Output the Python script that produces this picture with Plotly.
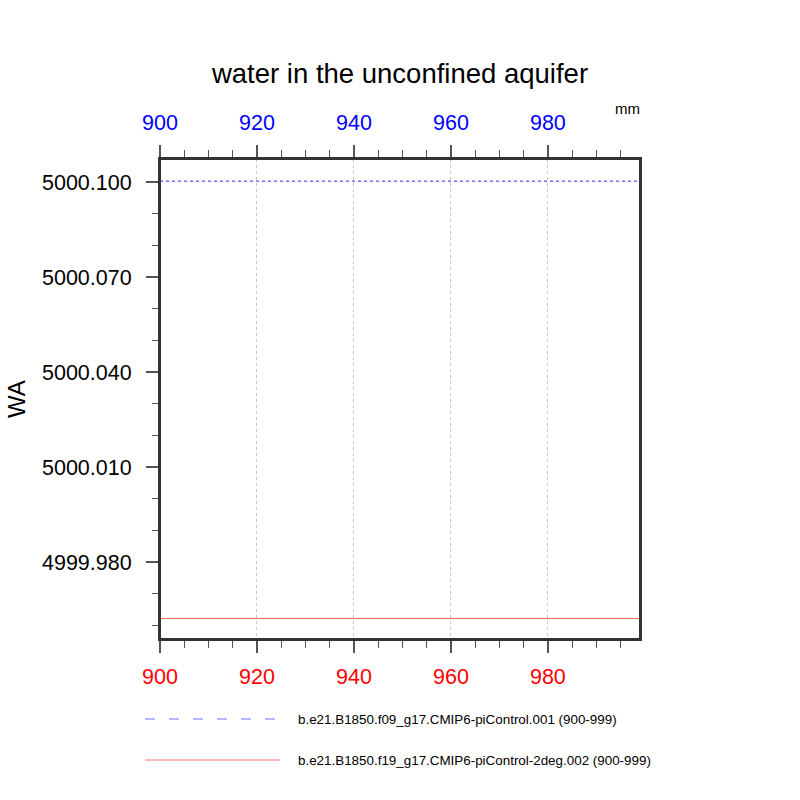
import plotly.graph_objects as go

# Data
years = list(range(900, 1000))
blue_label = "b.e21.B1850.f09_g17.CMIP6-piControl.001 (900-999)"
red_label = "b.e21.B1850.f19_g17.CMIP6-piControl-2deg.002 (900-999)"
blue_level = 5000.1003
red_level = 4999.9622
blue_vals = [blue_level for _ in years]
red_vals = [red_level for _ in years]

x_ticks = [900, 920, 940, 960, 980]
y_ticks = [4999.98, 5000.01, 5000.04, 5000.07, 5000.10]
y_ticktext = ["4999.980", "5000.010", "5000.040", "5000.070", "5000.100"]

FONT = "Liberation Sans, Arial, sans-serif"
AX = "#333333"

fig = go.Figure()
fig.add_trace(go.Scatter(x=years, y=red_vals, mode="lines",
                         line=dict(color="rgb(255,95,95)", width=1),
                         xaxis="x", yaxis="y", showlegend=False))
fig.add_trace(go.Scatter(x=years, y=blue_vals, mode="lines",
                         line=dict(color="rgb(40,40,255)", width=1, dash="3px,3px"),
                         xaxis="x2", yaxis="y", showlegend=False))

xr = [900, 999]
yr = [4999.9557, 5000.1073]

common_x = dict(range=xr, tickvals=x_ticks, ticks="outside", ticklen=12, tickwidth=1.5,
                tickcolor="#555", showline=True, linecolor=AX, linewidth=2,
                zeroline=False, automargin=False,
                minor=dict(dtick=5, tick0=900, ticks="outside", ticklen=7, tickwidth=1,
                           tickcolor="#555", showgrid=False))

fig.update_layout(
    width=800, height=800,
    plot_bgcolor="white", paper_bgcolor="white",
    margin=dict(l=160, r=160, t=159, b=161, autoexpand=False),
    font=dict(family=FONT, color="black"),
    title=dict(text="water in the unconfined aquifer", x=0.5, xanchor="center",
               y=1 - 73 / 800, yanchor="middle", font=dict(size=27.5, family=FONT),
               automargin=False),
    xaxis=dict(**common_x, side="bottom", anchor="y", mirror=False,
               showgrid=True, gridcolor="#c8c8c8", griddash="dot", gridwidth=1,
               ticklabelstandoff=5,
               tickfont=dict(color="red", size=21.5, family=FONT)),
    xaxis2=dict(**common_x, side="top", overlaying="x", anchor="y",
                showgrid=False, ticklabelstandoff=6,
                tickfont=dict(color="blue", size=21.5, family=FONT)),
    yaxis=dict(range=yr, tickvals=y_ticks, ticktext=y_ticktext, ticks="outside",
               ticklen=12, tickwidth=1.5, tickcolor="#555",
               showline=True, linecolor=AX, linewidth=2, mirror=True,
               showgrid=False, zeroline=False, automargin=False,
               ticklabelstandoff=10,
               minor=dict(dtick=0.01, tick0=4999.98, ticks="outside", ticklen=6,
                          tickwidth=1, tickcolor="#555", showgrid=False),
               tickfont=dict(size=21.5, family=FONT),
               title=dict(text="WA", font=dict(size=24, family=FONT), standoff=10)),
    showlegend=False,
)

# frame
fig.add_shape(type="rect", xref="paper", yref="paper", x0=0, x1=1, y0=0, y1=1,
              line=dict(color=AX, width=2), fillcolor="rgba(0,0,0,0)", layer="above")

# units label
fig.add_annotation(text="mm", xref="paper", yref="paper", x=(627 - 160) / 480,
                   y=(639 - 108) / 480, showarrow=False, xanchor="center", yanchor="middle",
                   font=dict(size=15, family=FONT, color="black"))

# custom legend
def px_x(p):
    return (p - 160) / 480

def px_y(p):
    return (639 - p) / 480

fig.add_shape(type="line", xref="paper", yref="paper", x0=px_x(145), x1=px_x(276),
              y0=px_y(719), y1=px_y(719),
              line=dict(color="rgb(110,110,255)", width=1, dash="10px,14px"))
fig.add_shape(type="line", xref="paper", yref="paper", x0=px_x(145), x1=px_x(280),
              y0=px_y(760), y1=px_y(760),
              line=dict(color="rgb(240,120,120)", width=1))
fig.add_annotation(text=blue_label, xref="paper", yref="paper", x=px_x(296), y=px_y(719),
                   xanchor="left", yanchor="middle", showarrow=False,
                   font=dict(size=13.4, family=FONT, color="black"))
fig.add_annotation(text=red_label, xref="paper", yref="paper", x=px_x(296), y=px_y(760),
                   xanchor="left", yanchor="middle", showarrow=False,
                   font=dict(size=13.4, family=FONT, color="black"))

fig.write_html("out.html", config={"displayModeBar": False},
               post_script="document.body.style.margin='0';")
